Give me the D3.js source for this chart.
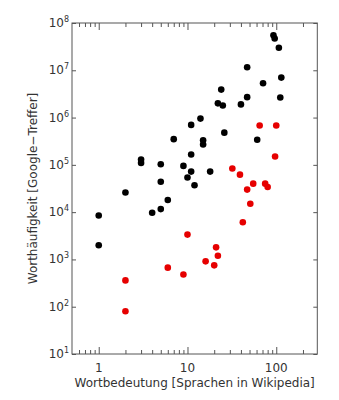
<!DOCTYPE html>
<html>
<head>
<meta charset="utf-8">
<script src="https://cdn.jsdelivr.net/npm/d3@7"></script>
<style>
  body { margin: 0; background: #fff; }
  text { font-family: "DejaVu Sans", sans-serif; fill: #333; }
</style>
</head>
<body>
<svg id="chart" width="339" height="400"></svg>
<script>
// black points: [languages in wikipedia, google hits]
const blackPoints = [
  [93, 5.5e7], [96, 4.7e7], [107, 3.0e7], [47, 1.16e7], [114, 7.0e6],
  [71, 5.3e6], [24, 3.9e6], [47, 2.7e6], [111, 2.65e6], [22, 2.0e6],
  [25, 1.8e6], [40, 1.9e6], [14, 9.5e5], [11, 7.0e5], [26, 4.8e5],
  [7, 3.5e5], [61, 3.4e5], [15, 3.3e5], [15, 2.7e5], [3, 1.3e5],
  [3, 1.1e5], [5, 1.03e5], [9, 9.5e4], [11, 1.66e5], [11, 7.2e4],
  [18, 7.2e4], [10, 5.4e4], [5, 4.4e4], [12, 3.7e4], [2, 2.6e4],
  [6, 1.8e4], [4, 9.7e3], [5, 1.16e4], [1, 8.5e3], [1, 2.0e3]
];
const redPoints = [
  [65, 6.8e5], [100, 6.8e5], [97, 1.5e5], [32, 8.4e4], [39, 6.2e4],
  [55, 4.0e4], [75, 4.0e4], [80, 3.4e4], [47, 3.0e4], [51, 1.5e4],
  [42, 6.1e3], [10, 3.35e3], [21, 1.8e3], [22, 1.2e3], [16, 910],
  [20, 750], [6, 670], [9, 480], [2, 360], [2, 80]
];
const xMajor = [1, 10, 100];
const xMinor = [0.6, 0.7, 0.8, 0.9, 2, 3, 4, 5, 6, 7, 8, 9,
  20, 30, 40, 50, 60, 70, 80, 90, 200];
const yExponents = [1, 2, 3, 4, 5, 6, 7, 8];

const plotLeft = 72, plotRight = 317.3, plotTop = 23, plotBottom = 354;

const svg = d3.select('#chart');

const x = d3.scaleLog().domain([0.5, 290]).range([plotLeft, plotRight]);
const y = d3.scaleLog().domain([10, 1e8]).range([plotBottom, plotTop]);

const axisColor = '#555';

function styleAxis(g) {
  g.select('.domain').remove();
  g.selectAll('line').attr('stroke', axisColor);
}

// bottom + top ticks (inward)
svg.append('g').attr('transform', `translate(0,${plotBottom})`)
  .call(d3.axisBottom(x).tickValues(xMajor).tickSize(-7).tickFormat(''))
  .call(styleAxis);
svg.append('g').attr('transform', `translate(0,${plotBottom})`)
  .call(d3.axisBottom(x).tickValues(xMinor).tickSize(-4).tickFormat(''))
  .call(styleAxis);
svg.append('g').attr('transform', `translate(0,${plotTop})`)
  .call(d3.axisTop(x).tickValues(xMajor).tickSize(-7).tickFormat(''))
  .call(styleAxis);
svg.append('g').attr('transform', `translate(0,${plotTop})`)
  .call(d3.axisTop(x).tickValues(xMinor).tickSize(-4).tickFormat(''))
  .call(styleAxis);

// left + right ticks
const yTicks = yExponents.map(e => Math.pow(10, e));
svg.append('g').attr('transform', `translate(${plotLeft},0)`)
  .call(d3.axisLeft(y).tickValues(yTicks).tickSize(-4).tickFormat(''))
  .call(styleAxis);
svg.append('g').attr('transform', `translate(${plotRight},0)`)
  .call(d3.axisRight(y).tickValues(yTicks).tickSize(-4).tickFormat(''))
  .call(styleAxis);

// frame
svg.append('rect')
  .attr('x', plotLeft).attr('y', plotTop)
  .attr('width', plotRight - plotLeft).attr('height', plotBottom - plotTop)
  .attr('fill', 'none').attr('stroke', axisColor).attr('stroke-width', 1);

// x tick labels
svg.append('g').selectAll('text')
  .data(xMajor)
  .join('text')
  .attr('x', d => x(d))
  .attr('y', plotBottom + 18)
  .attr('text-anchor', 'middle')
  .style('font-size', '12px')
  .text(d => d);

// y tick labels with superscript
const yLabels = svg.append('g').selectAll('text')
  .data(yExponents)
  .join('text')
  .attr('x', plotLeft - 3)
  .attr('y', d => y(Math.pow(10, d)) + 4)
  .attr('text-anchor', 'end')
  .style('font-size', '12px');
yLabels.append('tspan').text('10');
yLabels.append('tspan')
  .attr('dy', -5)
  .style('font-size', '8px')
  .text(d => d);

// axis titles
svg.append('text')
  .attr('x', (plotLeft + plotRight) / 2)
  .attr('y', plotBottom + 33)
  .attr('text-anchor', 'middle')
  .style('font-size', '12px')
  .text('Wortbedeutung [Sprachen in Wikipedia]');

svg.append('text')
  .attr('transform', `translate(37,${(plotTop + plotBottom) / 2}) rotate(-90)`)
  .attr('text-anchor', 'middle')
  .style('font-size', '12px')
  .text('Worthäufigkeit [Google\u2212Treffer]');

// points
svg.append('g')
  .selectAll('circle')
  .data(blackPoints)
  .join('circle')
  .attr('cx', d => x(d[0]))
  .attr('cy', d => y(d[1]))
  .attr('r', 3.3)
  .attr('fill', '#000');

svg.append('g')
  .selectAll('circle')
  .data(redPoints)
  .join('circle')
  .attr('cx', d => x(d[0]))
  .attr('cy', d => y(d[1]))
  .attr('r', 3.3)
  .attr('fill', '#e60000');
</script>
</body>
</html>
